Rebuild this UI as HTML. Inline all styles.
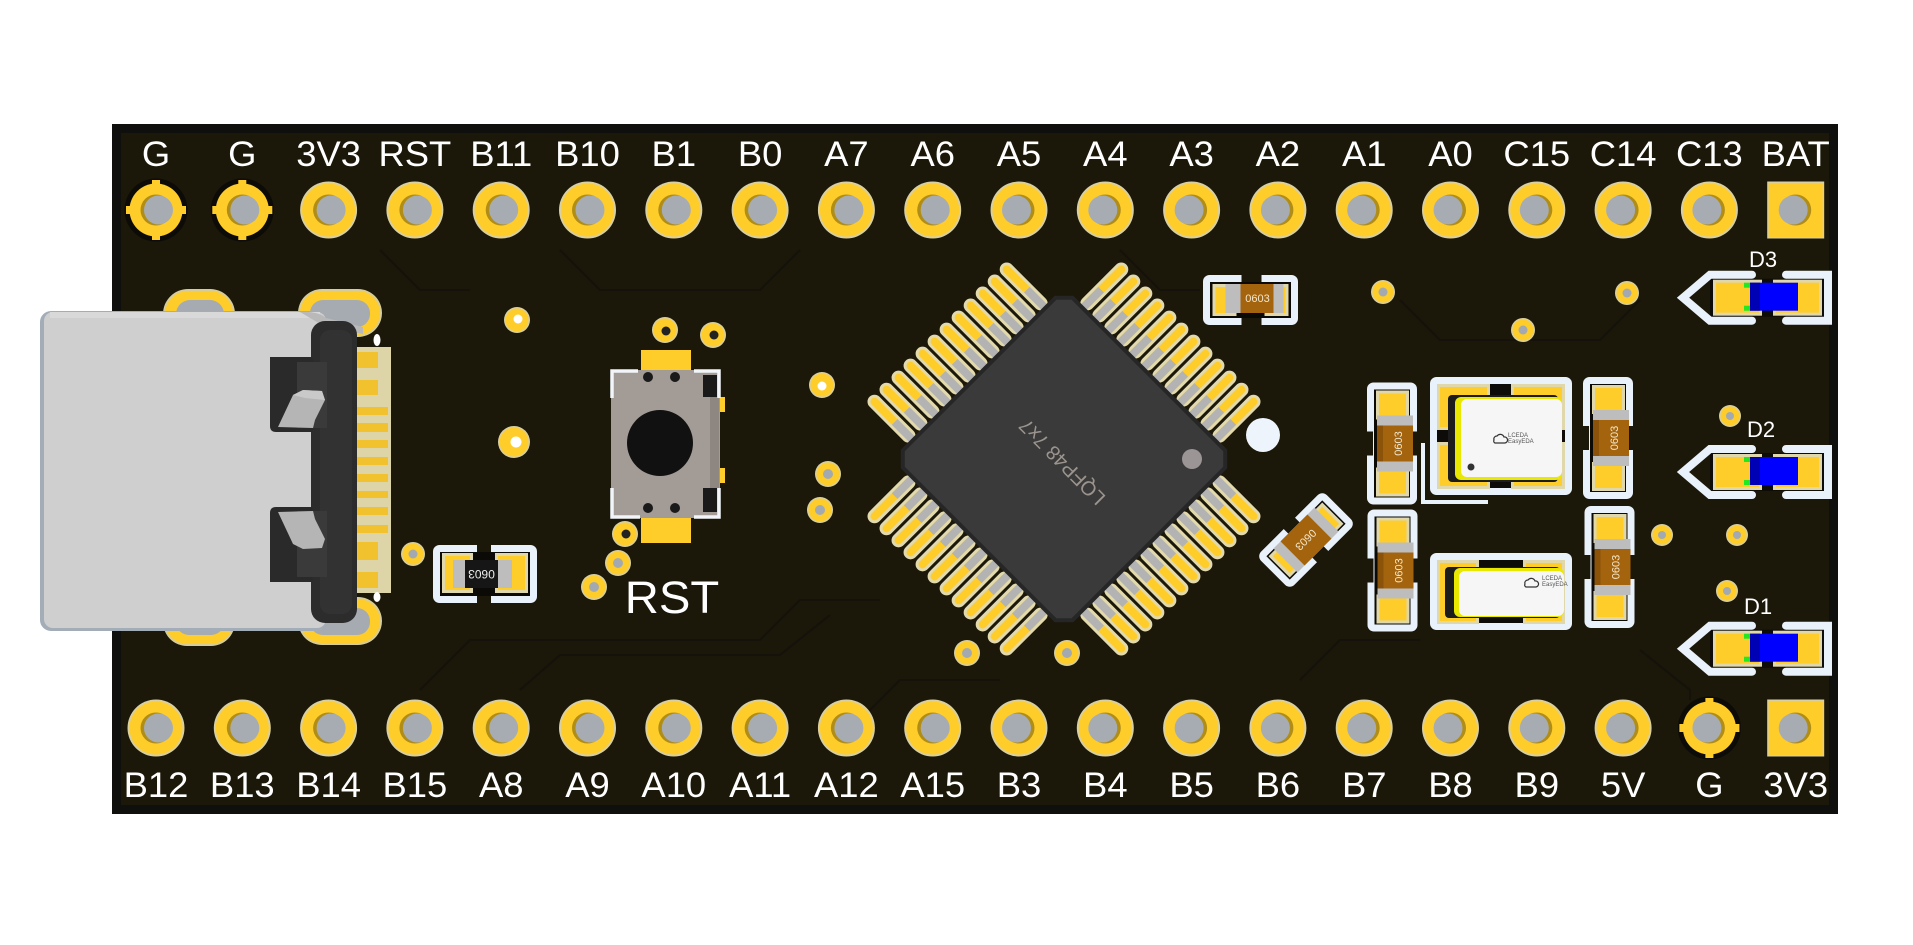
<!DOCTYPE html>
<html><head><meta charset="utf-8"><style>
html,body{margin:0;padding:0;background:#fff;}
svg{display:block;}
.lb{font-family:"Liberation Sans",Arial,sans-serif;font-size:35px;fill:#fff;text-anchor:middle;}
.dl{font-family:"Liberation Sans",Arial,sans-serif;font-size:22px;fill:#fff;text-anchor:middle;}
.cp{font-family:"Liberation Sans",Arial,sans-serif;font-size:11px;fill:#f3e6c8;text-anchor:middle;}
.xt{font-family:"Liberation Sans",Arial,sans-serif;font-size:6px;fill:#555;}
</style></head><body>
<svg width="1913" height="945" viewBox="0 0 1913 945" xmlns="http://www.w3.org/2000/svg">
<defs>
<g id="pl"><circle r="28.5" fill="#d9cf9f"/><circle r="26.5" fill="#ffcd2a"/><circle r="15.5" fill="#b08d17"/><circle cx="2.5" r="14.5" fill="#a7acb3"/></g>
<g id="pr"><circle r="28.5" fill="#d9cf9f"/><circle r="26.5" fill="#ffcd2a"/><circle r="15.5" fill="#b08d17"/><circle cx="-2.5" r="14.5" fill="#a7acb3"/></g>
<g id="pt"><circle r="31.5" fill="#0c0b07"/><rect x="-4" y="-30" width="8" height="60" fill="#ffcd2a"/><rect x="-30" y="-4" width="60" height="8" fill="#ffcd2a"/><circle r="26.5" fill="#ffcd2a"/><circle r="15.5" fill="#b08d17"/><circle cx="2.5" r="14.5" fill="#a7acb3"/></g>
<g id="ptr"><circle r="31.5" fill="#0c0b07"/><rect x="-4" y="-30" width="8" height="60" fill="#ffcd2a"/><rect x="-30" y="-4" width="60" height="8" fill="#ffcd2a"/><circle r="26.5" fill="#ffcd2a"/><circle r="15.5" fill="#b08d17"/><circle cx="-2.5" r="14.5" fill="#a7acb3"/></g>
<g id="ps"><rect x="-28.5" y="-28.5" width="57" height="57" fill="#d9cf9f"/><rect x="-27" y="-27" width="54" height="54" fill="#ffcd2a"/><circle r="15.5" fill="#b08d17"/><circle cx="-2.5" r="14.5" fill="#a7acb3"/></g>
<g id="side">
<rect x="-99" y="-180" width="11" height="59" rx="5.5" fill="#ffcd2a" stroke="#e2d9ad" stroke-width="3"/>
<rect x="-82" y="-180" width="11" height="59" rx="5.5" fill="#ffcd2a" stroke="#e2d9ad" stroke-width="3"/>
<rect x="-65" y="-180" width="11" height="59" rx="5.5" fill="#ffcd2a" stroke="#e2d9ad" stroke-width="3"/>
<rect x="-48" y="-180" width="11" height="59" rx="5.5" fill="#ffcd2a" stroke="#e2d9ad" stroke-width="3"/>
<rect x="-31" y="-180" width="11" height="59" rx="5.5" fill="#ffcd2a" stroke="#e2d9ad" stroke-width="3"/>
<rect x="-14" y="-180" width="11" height="59" rx="5.5" fill="#ffcd2a" stroke="#e2d9ad" stroke-width="3"/>
<rect x="3" y="-180" width="11" height="59" rx="5.5" fill="#ffcd2a" stroke="#e2d9ad" stroke-width="3"/>
<rect x="20" y="-180" width="11" height="59" rx="5.5" fill="#ffcd2a" stroke="#e2d9ad" stroke-width="3"/>
<rect x="37" y="-180" width="11" height="59" rx="5.5" fill="#ffcd2a" stroke="#e2d9ad" stroke-width="3"/>
<rect x="54" y="-180" width="11" height="59" rx="5.5" fill="#ffcd2a" stroke="#e2d9ad" stroke-width="3"/>
<rect x="71" y="-180" width="11" height="59" rx="5.5" fill="#ffcd2a" stroke="#e2d9ad" stroke-width="3"/>
<rect x="88" y="-180" width="11" height="59" rx="5.5" fill="#ffcd2a" stroke="#e2d9ad" stroke-width="3"/>
<rect x="-97.5" y="-146" width="8" height="26" fill="#b3b3b3"/>
<rect x="-80.5" y="-146" width="8" height="26" fill="#b3b3b3"/>
<rect x="-63.5" y="-146" width="8" height="26" fill="#b3b3b3"/>
<rect x="-46.5" y="-146" width="8" height="26" fill="#b3b3b3"/>
<rect x="-29.5" y="-146" width="8" height="26" fill="#b3b3b3"/>
<rect x="-12.5" y="-146" width="8" height="26" fill="#b3b3b3"/>
<rect x="4.5" y="-146" width="8" height="26" fill="#b3b3b3"/>
<rect x="21.5" y="-146" width="8" height="26" fill="#b3b3b3"/>
<rect x="38.5" y="-146" width="8" height="26" fill="#b3b3b3"/>
<rect x="55.5" y="-146" width="8" height="26" fill="#b3b3b3"/>
<rect x="72.5" y="-146" width="8" height="26" fill="#b3b3b3"/>
<rect x="89.5" y="-146" width="8" height="26" fill="#b3b3b3"/>
</g>
<g id="vcap">
<rect x="-21.5" y="-57.5" width="43" height="115" rx="3" fill="#0b0a07" stroke="#e9f1fa" stroke-width="7"/>
<rect x="-28" y="-12" width="9" height="24" fill="#1b1709"/>
<rect x="19" y="-12" width="9" height="24" fill="#1b1709"/>
<rect x="-16" y="-53" width="33" height="29" fill="#e0d7aa"/><rect x="-13" y="-50" width="27" height="23" fill="#ffcd2a"/>
<rect x="-16" y="24" width="33" height="29" fill="#e0d7aa"/><rect x="-13" y="27" width="27" height="23" fill="#ffcd2a"/>
<rect x="-15" y="-28" width="36" height="56" fill="#bdbdbd"/>
<rect x="-15" y="-18" width="36" height="36" fill="#a4640e"/>
<rect x="-15" y="-18" width="6" height="36" fill="#8b520a"/>
</g>
</defs>

<!-- board -->
<rect x="112" y="124" width="1726" height="690" fill="#0f0f0e"/>
<rect x="121" y="133" width="1708" height="672" fill="#1b1709"/>

<!-- faint traces -->
<g fill="none" stroke="#14120a" stroke-width="2">
<path d="M420 690 L470 640 L760 640 L800 600 L880 600"/>
<path d="M520 690 L560 655 L780 655 L830 615"/>
<path d="M380 250 L420 290 L470 290"/>
<path d="M560 250 L600 290 L760 290 L800 250"/>
<path d="M1400 300 L1440 340 L1600 340 L1640 300"/>
<path d="M1300 680 L1340 640 L1420 640"/>
<path d="M1640 650 L1690 690 L1690 700"/>
<path d="M860 720 L900 680 L1000 680"/>
<path d="M1120 250 L1160 290 L1200 290"/>
</g>

<!-- top pins -->
<use href="#pt" x="156" y="210"/>
<use href="#pt" x="242.3" y="210"/>
<use href="#pl" x="328.6" y="210"/>
<use href="#pl" x="414.9" y="210"/>
<use href="#pl" x="501.2" y="210"/>
<use href="#pl" x="587.5" y="210"/>
<use href="#pl" x="673.8" y="210"/>
<use href="#pl" x="760.1" y="210"/>
<use href="#pl" x="846.4" y="210"/>
<use href="#pl" x="932.7" y="210"/>
<use href="#pr" x="1019" y="210"/>
<use href="#pr" x="1105.3" y="210"/>
<use href="#pr" x="1191.6" y="210"/>
<use href="#pr" x="1277.9" y="210"/>
<use href="#pr" x="1364.2" y="210"/>
<use href="#pr" x="1450.5" y="210"/>
<use href="#pr" x="1536.8" y="210"/>
<use href="#pr" x="1623.1" y="210"/>
<use href="#pr" x="1709.4" y="210"/>
<use href="#ps" x="1795.7" y="210"/>
<!-- bottom pins -->
<use href="#pl" x="156" y="728"/>
<use href="#pl" x="242.3" y="728"/>
<use href="#pl" x="328.6" y="728"/>
<use href="#pl" x="414.9" y="728"/>
<use href="#pl" x="501.2" y="728"/>
<use href="#pl" x="587.5" y="728"/>
<use href="#pl" x="673.8" y="728"/>
<use href="#pl" x="760.1" y="728"/>
<use href="#pl" x="846.4" y="728"/>
<use href="#pl" x="932.7" y="728"/>
<use href="#pr" x="1019" y="728"/>
<use href="#pr" x="1105.3" y="728"/>
<use href="#pr" x="1191.6" y="728"/>
<use href="#pr" x="1277.9" y="728"/>
<use href="#pr" x="1364.2" y="728"/>
<use href="#pr" x="1450.5" y="728"/>
<use href="#pr" x="1536.8" y="728"/>
<use href="#pr" x="1623.1" y="728"/>
<use href="#ptr" x="1709.4" y="728"/>
<use href="#ps" x="1795.7" y="728"/>

<!-- labels top -->
<text class="lb" transform="translate(156,166) scale(1.04,1)">G</text>
<text class="lb" transform="translate(242.3,166) scale(1.04,1)">G</text>
<text class="lb" transform="translate(328.6,166) scale(1.04,1)">3V3</text>
<text class="lb" transform="translate(414.9,166) scale(1.04,1)">RST</text>
<text class="lb" transform="translate(501.2,166) scale(1.04,1)">B11</text>
<text class="lb" transform="translate(587.5,166) scale(1.04,1)">B10</text>
<text class="lb" transform="translate(673.8,166) scale(1.04,1)">B1</text>
<text class="lb" transform="translate(760.1,166) scale(1.04,1)">B0</text>
<text class="lb" transform="translate(846.4,166) scale(1.04,1)">A7</text>
<text class="lb" transform="translate(932.7,166) scale(1.04,1)">A6</text>
<text class="lb" transform="translate(1019,166) scale(1.04,1)">A5</text>
<text class="lb" transform="translate(1105.3,166) scale(1.04,1)">A4</text>
<text class="lb" transform="translate(1191.6,166) scale(1.04,1)">A3</text>
<text class="lb" transform="translate(1277.9,166) scale(1.04,1)">A2</text>
<text class="lb" transform="translate(1364.2,166) scale(1.04,1)">A1</text>
<text class="lb" transform="translate(1450.5,166) scale(1.04,1)">A0</text>
<text class="lb" transform="translate(1536.8,166) scale(1.04,1)">C15</text>
<text class="lb" transform="translate(1623.1,166) scale(1.04,1)">C14</text>
<text class="lb" transform="translate(1709.4,166) scale(1.04,1)">C13</text>
<text class="lb" transform="translate(1795.7,166) scale(1.04,1)">BAT</text>
<!-- labels bottom -->
<text class="lb" transform="translate(156,797) scale(1.04,1)">B12</text>
<text class="lb" transform="translate(242.3,797) scale(1.04,1)">B13</text>
<text class="lb" transform="translate(328.6,797) scale(1.04,1)">B14</text>
<text class="lb" transform="translate(414.9,797) scale(1.04,1)">B15</text>
<text class="lb" transform="translate(501.2,797) scale(1.04,1)">A8</text>
<text class="lb" transform="translate(587.5,797) scale(1.04,1)">A9</text>
<text class="lb" transform="translate(673.8,797) scale(1.04,1)">A10</text>
<text class="lb" transform="translate(760.1,797) scale(1.04,1)">A11</text>
<text class="lb" transform="translate(846.4,797) scale(1.04,1)">A12</text>
<text class="lb" transform="translate(932.7,797) scale(1.04,1)">A15</text>
<text class="lb" transform="translate(1019,797) scale(1.04,1)">B3</text>
<text class="lb" transform="translate(1105.3,797) scale(1.04,1)">B4</text>
<text class="lb" transform="translate(1191.6,797) scale(1.04,1)">B5</text>
<text class="lb" transform="translate(1277.9,797) scale(1.04,1)">B6</text>
<text class="lb" transform="translate(1364.2,797) scale(1.04,1)">B7</text>
<text class="lb" transform="translate(1450.5,797) scale(1.04,1)">B8</text>
<text class="lb" transform="translate(1536.8,797) scale(1.04,1)">B9</text>
<text class="lb" transform="translate(1623.1,797) scale(1.04,1)">5V</text>
<text class="lb" transform="translate(1709.4,797) scale(1.04,1)">G</text>
<text class="lb" transform="translate(1795.7,797) scale(1.04,1)">3V3</text>

<!-- USB slots -->
<rect x="163" y="289" width="72" height="50" rx="25" fill="#d6cc9a"/>
<rect x="165" y="291" width="68" height="46" rx="23" fill="#ffcd2a"/>
<rect x="176" y="300" width="48" height="28" rx="14" fill="#a6abb2"/>
<rect x="298" y="289" width="84" height="48" rx="24" fill="#d6cc9a"/>
<rect x="300" y="291" width="80" height="44" rx="22" fill="#ffcd2a"/>
<rect x="310" y="300" width="60" height="27" rx="13" fill="#a6abb2"/>
<rect x="163" y="598" width="72" height="48" rx="24" fill="#d6cc9a"/>
<rect x="165" y="600" width="68" height="44" rx="22" fill="#ffcd2a"/>
<rect x="176" y="609" width="48" height="26" rx="13" fill="#a6abb2"/>
<rect x="298" y="597" width="84" height="48" rx="24" fill="#d6cc9a"/>
<rect x="300" y="599" width="80" height="44" rx="22" fill="#ffcd2a"/>
<rect x="310" y="608" width="60" height="27" rx="13" fill="#a6abb2"/>

<!-- USB contacts -->
<rect x="353" y="347" width="38" height="246" fill="#ddd4a8"/>
<g fill="#f2c22e">
<rect x="355" y="352" width="23" height="16"/><rect x="355" y="380" width="23" height="15"/>
<rect x="355" y="407" width="33" height="8"/><rect x="355" y="423" width="33" height="9"/>
<rect x="355" y="440" width="33" height="8"/><rect x="355" y="457" width="33" height="8"/>
<rect x="355" y="474" width="33" height="8"/><rect x="355" y="491" width="33" height="7"/>
<rect x="355" y="507" width="33" height="8"/><rect x="355" y="525" width="33" height="8"/>
<rect x="355" y="542" width="23" height="18"/><rect x="355" y="572" width="23" height="16"/>
</g>
<ellipse cx="377" cy="340" rx="3.5" ry="6" fill="#fff"/>
<ellipse cx="377" cy="597" rx="3.5" ry="5" fill="#fff"/>

<!-- USB shell -->
<rect x="40" y="311" width="286" height="320" rx="11" fill="#a3adb8"/>
<rect x="44" y="312" width="282" height="316" rx="9" fill="#cfcfcf"/>
<rect x="50" y="312" width="270" height="6" fill="#d9d9d9"/>
<path d="M300 312 Q318 311 326 318 L363 327 L363 334 L322 325 Z" fill="#b9b9b9"/>
<rect x="311" y="321" width="46" height="302" rx="14" fill="#2c2c2c"/>
<rect x="320" y="330" width="32" height="284" rx="10" fill="#323232"/>
<path d="M270 357 L313 357 L313 432 L276 432 Q270 432 270 426 Z" fill="#2a2a2a"/>
<rect x="297" y="362" width="30" height="66" fill="#3a3a3a"/>
<path d="M278 427 L293 395 L303 390 L322 391 L325 400 L315 420 L313 428 Z" fill="#b5b5b5"/>
<path d="M293 395 L303 390 L322 391 L325 400 L305 398 Z" fill="#c9c9c9"/>
<path d="M270 582 L313 582 L313 507 L276 507 Q270 507 270 513 Z" fill="#2a2a2a"/>
<rect x="297" y="511" width="30" height="66" fill="#3a3a3a"/>
<path d="M278 512 L293 544 L303 549 L322 548 L325 539 L315 519 L313 511 Z" fill="#b5b5b5"/>

<!-- vias -->
<g>
<circle cx="517" cy="320" r="13" fill="#d8cfa0"/><circle cx="517" cy="320" r="11.5" fill="#ffcd2a"/><circle cx="518" cy="319" r="4.5" fill="#fff"/>
<circle cx="514" cy="442" r="16" fill="#d8cfa0"/><circle cx="514" cy="442" r="14.5" fill="#ffcd2a"/><circle cx="516" cy="442" r="5.5" fill="#fff"/>
<circle cx="665" cy="330" r="13" fill="#d8cfa0"/><circle cx="665" cy="330" r="11.5" fill="#ffcd2a"/><circle cx="666" cy="331" r="4.5" fill="#222"/>
<circle cx="713" cy="335" r="13" fill="#d8cfa0"/><circle cx="713" cy="335" r="11.5" fill="#ffcd2a"/><circle cx="714" cy="335" r="4.5" fill="#222"/>
<circle cx="822" cy="385" r="13" fill="#d8cfa0"/><circle cx="822" cy="385" r="11.5" fill="#ffcd2a"/><circle cx="822" cy="386" r="4.5" fill="#fff"/>
<circle cx="828" cy="474" r="13" fill="#d8cfa0"/><circle cx="828" cy="474" r="11.5" fill="#ffcd2a"/><circle cx="828" cy="474" r="5" fill="#a3a9b0"/>
<circle cx="820" cy="510" r="13" fill="#d8cfa0"/><circle cx="820" cy="510" r="11.5" fill="#ffcd2a"/><circle cx="820" cy="510" r="5" fill="#a3a9b0"/>
<circle cx="625" cy="534" r="13" fill="#d8cfa0"/><circle cx="625" cy="534" r="11.5" fill="#ffcd2a"/><circle cx="626" cy="534" r="4.5" fill="#222"/>
<circle cx="618" cy="563" r="13" fill="#d8cfa0"/><circle cx="618" cy="563" r="11.5" fill="#ffcd2a"/><circle cx="618" cy="563" r="5" fill="#a3a9b0"/>
<circle cx="594" cy="587" r="13" fill="#d8cfa0"/><circle cx="594" cy="587" r="11.5" fill="#ffcd2a"/><circle cx="594" cy="587" r="5" fill="#a3a9b0"/>
<circle cx="413" cy="554" r="12" fill="#d8cfa0"/><circle cx="413" cy="554" r="10.5" fill="#ffcd2a"/><circle cx="413" cy="554" r="4.5" fill="#a3a9b0"/>
<circle cx="967" cy="653" r="13" fill="#d8cfa0"/><circle cx="967" cy="653" r="11.5" fill="#ffcd2a"/><circle cx="967" cy="653" r="5" fill="#a3a9b0"/>
<circle cx="1067" cy="653" r="13" fill="#d8cfa0"/><circle cx="1067" cy="653" r="11.5" fill="#ffcd2a"/><circle cx="1067" cy="653" r="5" fill="#a3a9b0"/>
<circle cx="1383" cy="292" r="12" fill="#d8cfa0"/><circle cx="1383" cy="292" r="10.5" fill="#ffcd2a"/><circle cx="1383" cy="292" r="4.5" fill="#a3a9b0"/>
<circle cx="1523" cy="330" r="12" fill="#d8cfa0"/><circle cx="1523" cy="330" r="10.5" fill="#ffcd2a"/><circle cx="1523" cy="330" r="4.5" fill="#a3a9b0"/>
<circle cx="1627" cy="293" r="12" fill="#d8cfa0"/><circle cx="1627" cy="293" r="10.5" fill="#ffcd2a"/><circle cx="1627" cy="293" r="4.5" fill="#a3a9b0"/>
<circle cx="1662" cy="535" r="11" fill="#d8cfa0"/><circle cx="1662" cy="535" r="9.5" fill="#ffcd2a"/><circle cx="1662" cy="535" r="4" fill="#a3a9b0"/>
<circle cx="1737" cy="535" r="11" fill="#d8cfa0"/><circle cx="1737" cy="535" r="9.5" fill="#ffcd2a"/><circle cx="1737" cy="535" r="4" fill="#a3a9b0"/>
<circle cx="1727" cy="591" r="11" fill="#d8cfa0"/><circle cx="1727" cy="591" r="9.5" fill="#ffcd2a"/><circle cx="1727" cy="591" r="4" fill="#a3a9b0"/>
<circle cx="1730" cy="416" r="11" fill="#d8cfa0"/><circle cx="1730" cy="416" r="9.5" fill="#ffcd2a"/><circle cx="1730" cy="416" r="4" fill="#a3a9b0"/>
</g>

<!-- black resistor 0603 -->
<g transform="translate(485,574)">
<rect x="-48.5" y="-25.5" width="97" height="51" rx="3" fill="#0b0a07" stroke="#e9f1fa" stroke-width="7"/>
<rect x="-8" y="-31" width="14" height="9" fill="#1b1709"/><rect x="-8" y="22" width="14" height="9" fill="#1b1709"/>
<rect x="-43" y="-21" width="31" height="40" fill="#e0d7aa"/><rect x="-40" y="-18" width="25" height="34" fill="#ffcd2a"/>
<rect x="10" y="-21" width="33" height="40" fill="#e0d7aa"/><rect x="13" y="-18" width="27" height="34" fill="#ffcd2a"/>
<rect x="-32" y="-14" width="59" height="28" fill="#bdbdbd"/>
<rect x="-20" y="-14" width="33" height="28" fill="#161616"/>
<text class="cp" transform="translate(-3.5,0) rotate(180)" dy="4" style="font-size:12px;fill:#eee">0603</text>
</g>

<!-- RST button -->
<g>
<rect x="641" y="350" width="50" height="25" fill="#ffcd2a"/>
<rect x="641" y="513" width="50" height="30" fill="#ffcd2a"/>
<rect x="720" y="397" width="5" height="15" fill="#ffcd2a"/>
<rect x="720" y="468" width="5" height="15" fill="#ffcd2a"/>
<rect x="611" y="370" width="109" height="148" fill="#a39b95"/>
<rect x="703" y="375" width="14" height="22" fill="#1a1a1a"/>
<rect x="703" y="488" width="14" height="24" fill="#1a1a1a"/>
<rect x="710" y="397" width="9" height="91" fill="#8e8781"/>
<circle cx="648" cy="377" r="5" fill="#1a1a1a"/><circle cx="675" cy="377" r="5" fill="#1a1a1a"/>
<circle cx="648" cy="508" r="5" fill="#1a1a1a"/><circle cx="675" cy="508" r="5" fill="#1a1a1a"/>
<circle cx="660" cy="443" r="33" fill="#111"/>
<g fill="none" stroke="#f2f6fa" stroke-width="3.5">
<polyline points="612,398 612,371 638,371"/>
<polyline points="694,371 719,371 719,398"/>
<polyline points="612,488 612,517 640,517"/>
<polyline points="694,517 719,517 719,488"/>
</g>
<text class="lb" transform="translate(672,613) scale(1.05,1)" style="font-size:45px">RST</text>
</g>

<!-- chip -->
<g transform="translate(1064,459) rotate(45)">
<use href="#side"/>
<use href="#side" transform="rotate(90)"/>
<use href="#side" transform="rotate(180)"/>
<use href="#side" transform="rotate(270)"/>
<polygon points="-108,-120 108,-120 120,-108 120,108 108,120 -108,120 -120,108 -120,-108" fill="#3a3a3a" stroke="#262626" stroke-width="4"/>
</g>
<circle cx="1192" cy="459" r="10" fill="#9c9595"/>
<text transform="translate(1062,462) rotate(225)" text-anchor="middle" dy="7" style="font-family:'Liberation Sans',Arial,sans-serif;font-size:20px;fill:#9b948e">LQFP48 7x7</text>
<circle cx="1263" cy="435" r="17" fill="#eef4fb"/>

<!-- top horizontal 0603 cap -->
<g transform="translate(1250.5,300)">
<rect x="-44" y="-21.5" width="88" height="43" rx="3" fill="#0b0a07" stroke="#e9f1fa" stroke-width="7"/>
<rect x="-9" y="-27" width="20" height="9" fill="#1b1709"/><rect x="-9" y="18" width="20" height="9" fill="#1b1709"/>
<rect x="-38" y="-16" width="24" height="32" fill="#e0d7aa"/><rect x="-35" y="-13" width="18" height="26" fill="#ffcd2a"/>
<rect x="14" y="-16" width="24" height="32" fill="#e0d7aa"/><rect x="17" y="-13" width="18" height="26" fill="#ffcd2a"/>
<rect x="-25" y="-16" width="58" height="29" fill="#bdbdbd"/>
<rect x="-10" y="-16" width="33" height="29" fill="#a4640e"/>
<text class="cp" x="7" y="2">0603</text>
</g>

<!-- vertical caps -->
<use href="#vcap" x="1392" y="443.5"/>
<text class="cp" transform="translate(1398,443.5) rotate(-90)" dy="4">0603</text>
<use href="#vcap" x="1608" y="438"/>
<text class="cp" transform="translate(1614,438) rotate(-90)" dy="4">0603</text>
<use href="#vcap" x="1392.5" y="570.5"/>
<text class="cp" transform="translate(1398.5,570.5) rotate(-90)" dy="4">0603</text>
<use href="#vcap" x="1609.5" y="567"/>
<text class="cp" transform="translate(1615.5,567) rotate(-90)" dy="4">0603</text>

<!-- diagonal cap -->
<g transform="translate(1306,540) rotate(-45)">
<rect x="-43" y="-20" width="86" height="40" rx="3" fill="#0b0a07" stroke="#e9f1fa" stroke-width="7"/>
<rect x="-8" y="-26" width="16" height="9" fill="#1b1709"/><rect x="-8" y="17" width="16" height="9" fill="#1b1709"/>
<rect x="-38" y="-15" width="24" height="30" fill="#e0d7aa"/><rect x="-35" y="-12" width="18" height="24" fill="#ffcd2a"/>
<rect x="14" y="-15" width="24" height="30" fill="#e0d7aa"/><rect x="17" y="-12" width="18" height="24" fill="#ffcd2a"/>
<rect x="-29" y="-17" width="58" height="34" fill="#bdbdbd"/>
<rect x="-19" y="-17" width="38" height="34" fill="#a4640e"/>
<text class="cp" transform="rotate(180)" dy="4">0603</text>
</g>

<!-- crystal X1 -->
<g>
<rect x="1433.5" y="380.5" width="135" height="111" rx="3" fill="#0d0c08" stroke="#e9f1fa" stroke-width="7"/>
<rect x="1437" y="384" width="53" height="46" fill="#e0d7aa"/><rect x="1440" y="387" width="47" height="40" fill="#ffcd2a"/>
<rect x="1511" y="384" width="54" height="46" fill="#e0d7aa"/><rect x="1514" y="387" width="48" height="40" fill="#ffcd2a"/>
<rect x="1437" y="442" width="53" height="47" fill="#e0d7aa"/><rect x="1440" y="445" width="47" height="41" fill="#ffcd2a"/>
<rect x="1511" y="442" width="54" height="47" fill="#e0d7aa"/><rect x="1514" y="445" width="48" height="41" fill="#ffcd2a"/>
<rect x="1448" y="395" width="110" height="87" rx="4" fill="#1c1c1c"/>
<rect x="1455" y="397" width="107" height="83" rx="6" fill="#e8e800"/>
<rect x="1461" y="399" width="101" height="78" rx="6" fill="#f6f6f6"/>
<path d="M1494 440 a3 3 0 0 1 3 -4 a4 4 0 0 1 7 1 a3 3 0 0 1 1 6 h-10 a2 2 0 0 1 -1 -3z" fill="none" stroke="#333" stroke-width="1.2"/>
<text class="xt" x="1508" y="437">LCEDA</text>
<text class="xt" x="1508" y="443">EasyEDA</text>
<circle cx="1471" cy="467" r="3.5" fill="#333"/>
<polyline points="1423,443 1423,502 1488,502" fill="none" stroke="#e9f1fa" stroke-width="4"/>
</g>

<!-- crystal X2 -->
<g>
<rect x="1433.5" y="556.5" width="135" height="70" rx="3" fill="#0d0c08" stroke="#e9f1fa" stroke-width="7"/>
<rect x="1437" y="560" width="42" height="64" fill="#e0d7aa"/><rect x="1440" y="563" width="36" height="58" fill="#ffcd2a"/>
<rect x="1523" y="560" width="42" height="64" fill="#e0d7aa"/><rect x="1526" y="563" width="36" height="58" fill="#ffcd2a"/>
<rect x="1445" y="567" width="115" height="51" rx="4" fill="#1c1c1c"/>
<rect x="1454" y="568" width="110" height="49" rx="6" fill="#e8e800"/>
<rect x="1459" y="571" width="105" height="45" rx="6" fill="#f6f6f6"/>
<path d="M1525 584 a3 3 0 0 1 3 -4 a4 4 0 0 1 7 1 a3 3 0 0 1 1 6 h-10 a2 2 0 0 1 -1 -3z" fill="none" stroke="#333" stroke-width="1.2"/>
<text class="xt" x="1542" y="580">LCEDA</text>
<text class="xt" x="1542" y="586">EasyEDA</text>
</g>

<!-- LEDs -->
<g transform="translate(0,270.7)">
<rect x="1710" y="8" width="114" height="38" fill="#0d0c08"/>
<polyline points="1752,4 1710,4 1683,27 1710,50 1752,50" fill="none" stroke="#e9f1fa" stroke-width="8" stroke-linecap="round"/>
<polyline points="1786,4 1828,4 1828,50 1786,50" fill="none" stroke="#e9f1fa" stroke-width="8" stroke-linecap="round"/>
<rect x="1713" y="9" width="49" height="36" fill="#e0d7aa"/><rect x="1716" y="12" width="43" height="30" fill="#ffcd2a"/>
<rect x="1773" y="9" width="49" height="36" fill="#e0d7aa"/><rect x="1776" y="12" width="43" height="30" fill="#ffcd2a"/>
<rect x="1750" y="12" width="48" height="28" fill="#0000ff"/><rect x="1750" y="12" width="10" height="28" fill="#0000b4"/>
<rect x="1744" y="12" width="6" height="5" fill="#22e822"/><rect x="1744" y="35" width="6" height="5" fill="#22e822"/>
</g>
<text class="dl" x="1763" y="267">D3</text>
<g transform="translate(0,445)">
<rect x="1710" y="8" width="114" height="38" fill="#0d0c08"/>
<polyline points="1752,4 1710,4 1683,27 1710,50 1752,50" fill="none" stroke="#e9f1fa" stroke-width="8" stroke-linecap="round"/>
<polyline points="1786,4 1828,4 1828,50 1786,50" fill="none" stroke="#e9f1fa" stroke-width="8" stroke-linecap="round"/>
<rect x="1713" y="9" width="49" height="36" fill="#e0d7aa"/><rect x="1716" y="12" width="43" height="30" fill="#ffcd2a"/>
<rect x="1773" y="9" width="49" height="36" fill="#e0d7aa"/><rect x="1776" y="12" width="43" height="30" fill="#ffcd2a"/>
<rect x="1750" y="12" width="48" height="28" fill="#0000ff"/><rect x="1750" y="12" width="10" height="28" fill="#0000b4"/>
<rect x="1744" y="12" width="6" height="5" fill="#22e822"/><rect x="1744" y="35" width="6" height="5" fill="#22e822"/>
</g>
<text class="dl" x="1761" y="437">D2</text>
<g transform="translate(0,621.7)">
<rect x="1710" y="8" width="114" height="38" fill="#0d0c08"/>
<polyline points="1752,4 1710,4 1683,27 1710,50 1752,50" fill="none" stroke="#e9f1fa" stroke-width="8" stroke-linecap="round"/>
<polyline points="1786,4 1828,4 1828,50 1786,50" fill="none" stroke="#e9f1fa" stroke-width="8" stroke-linecap="round"/>
<rect x="1713" y="9" width="49" height="36" fill="#e0d7aa"/><rect x="1716" y="12" width="43" height="30" fill="#ffcd2a"/>
<rect x="1773" y="9" width="49" height="36" fill="#e0d7aa"/><rect x="1776" y="12" width="43" height="30" fill="#ffcd2a"/>
<rect x="1750" y="12" width="48" height="28" fill="#0000ff"/><rect x="1750" y="12" width="10" height="28" fill="#0000b4"/>
<rect x="1744" y="12" width="6" height="5" fill="#22e822"/><rect x="1744" y="35" width="6" height="5" fill="#22e822"/>
</g>
<text class="dl" x="1758" y="614">D1</text>
</svg>
</body></html>
